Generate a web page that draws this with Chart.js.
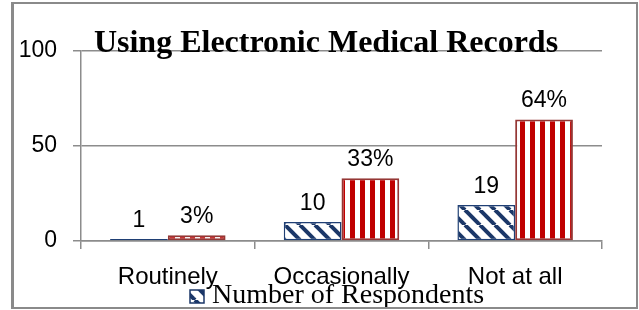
<!DOCTYPE html>
<html>
<head>
<meta charset="utf-8">
<script src="https://cdn.jsdelivr.net/npm/chart.js@4/dist/chart.umd.min.js"></script>
<style>
  html, body { margin: 0; padding: 0; background: #ffffff; }
  #wrap { position: relative; width: 639px; height: 310px; }
</style>
</head>
<body>
<div id="wrap"><canvas id="c" width="639" height="310"></canvas></div>
<script>
const titleText = "Using Electronic Medical Records";
const categories = ["Routinely", "Occasionally", "Not at all"];
const respondents = [1, 10, 19];
const percentages = [3, 33, 64];
const seriesNames = ["Number of Respondents", "Percentage of Respondents"];
const yTicks = [0, 50, 100];

function bluePattern() {
  const s = 15;
  const c = document.createElement('canvas');
  c.width = s; c.height = s;
  const g = c.getContext('2d');
  g.fillStyle = '#ffffff'; g.fillRect(0, 0, s, s);
  g.strokeStyle = '#1b3768'; g.lineWidth = 4;
  for (const x0 of [-s, 0, s]) {
    g.beginPath(); g.moveTo(x0, 0); g.lineTo(x0 + s, s); g.stroke();
  }
  return g.createPattern(c, 'repeat');
}
function redPattern() {
  const c = document.createElement('canvas');
  c.width = 10; c.height = 4;
  const g = c.getContext('2d');
  g.fillStyle = '#ffffff'; g.fillRect(0, 0, 10, 4);
  g.fillStyle = '#c00000'; g.fillRect(0, 0, 5, 4);
  return g.createPattern(c, 'repeat');
}
const bPat = bluePattern();
const rPat = redPattern();

const overlay = {
  id: 'overlay',
  afterDatasetsDraw(chart) {
    const ctx = chart.ctx;
    ctx.save();
    ctx.font = '23px "Liberation Sans", Arial, sans-serif';
    ctx.fillStyle = '#000000';
    ctx.textAlign = 'center';
    ctx.textBaseline = 'alphabetic';
    chart.data.datasets.forEach((ds, di) => {
      const meta = chart.getDatasetMeta(di);
      meta.data.forEach((bar, i) => {
        const txt = di === 0 ? String(ds.data[i]) : ds.data[i] + '%';
        ctx.fillText(txt, bar.x, bar.y - 12);
      });
    });
    ctx.restore();
  },
  afterDraw(chart) {
    const ctx = chart.ctx;
    ctx.save();
    // title
    ctx.font = 'bold 32px "Liberation Serif", "Times New Roman", serif';
    ctx.fillStyle = '#000000';
    ctx.textAlign = 'center';
    ctx.textBaseline = 'alphabetic';
    ctx.fillText(titleText, 326, 52);
    // legend (first series only)
    ctx.fillStyle = bPat;
    ctx.fillRect(190, 290, 14, 13);
    ctx.strokeStyle = '#1b3768'; ctx.lineWidth = 1.5;
    ctx.strokeRect(190, 290, 14, 13);
    ctx.fillStyle = '#000000';
    ctx.textAlign = 'left';
    ctx.font = '28px "Liberation Serif", "Times New Roman", serif';
    ctx.fillText(chart.data.datasets[0].label, 212, 303);
    // frame
    ctx.fillStyle = '#8a8a8a';
    ctx.fillRect(11, 2, 3, 307);
    ctx.fillRect(11, 2, 627, 2);
    ctx.fillRect(636, 2, 2, 307);
    ctx.fillRect(11, 307, 627, 2);
    ctx.restore();
  }
};

new Chart(document.getElementById('c'), {
  type: 'bar',
  data: {
    labels: categories,
    datasets: [
      { label: seriesNames[0], data: respondents, backgroundColor: bPat,
        borderColor: '#1f3f74', borderWidth: 1.5, borderSkipped: false },
      { label: seriesNames[1], data: percentages, backgroundColor: rPat,
        borderColor: '#953735', borderWidth: 2, borderSkipped: false }
    ]
  },
  options: {
    responsive: false,
    devicePixelRatio: 1,
    animation: false,
    layout: { padding: { top: 51, right: 37, left: 0, bottom: 0 } },
    plugins: { legend: { display: false }, title: { display: false }, tooltip: { enabled: false } },
    datasets: { bar: { categoryPercentage: 0.665, barPercentage: 1 } },
    scales: {
      x: {
        afterFit(s) { s.height = 69; },
        grid: { display: true, drawOnChartArea: false, drawTicks: true, tickLength: 8, color: '#8c8c8c', lineWidth: 1.5, offset: true },
        border: { display: true, color: '#8c8c8c', width: 1.5 },
        ticks: { color: '#000000', padding: 14, font: { family: '"Liberation Sans", Arial, sans-serif', size: 24 }, maxRotation: 0, autoSkip: false }
      },
      y: {
        min: 0, max: 100,
        afterFit(s) { s.width = 81; },
        afterBuildTicks(s) { s.ticks = yTicks.map(v => ({ value: v })); },
        grid: { color: '#8c8c8c', lineWidth: 1.5, drawTicks: true, tickLength: 8 },
        border: { display: true, color: '#8c8c8c', width: 1.5 },
        ticks: { color: '#000000', padding: 16, font: { family: '"Liberation Sans", Arial, sans-serif', size: 23 } }
      }
    }
  },
  plugins: [overlay]
});
</script>
</body>
</html>
